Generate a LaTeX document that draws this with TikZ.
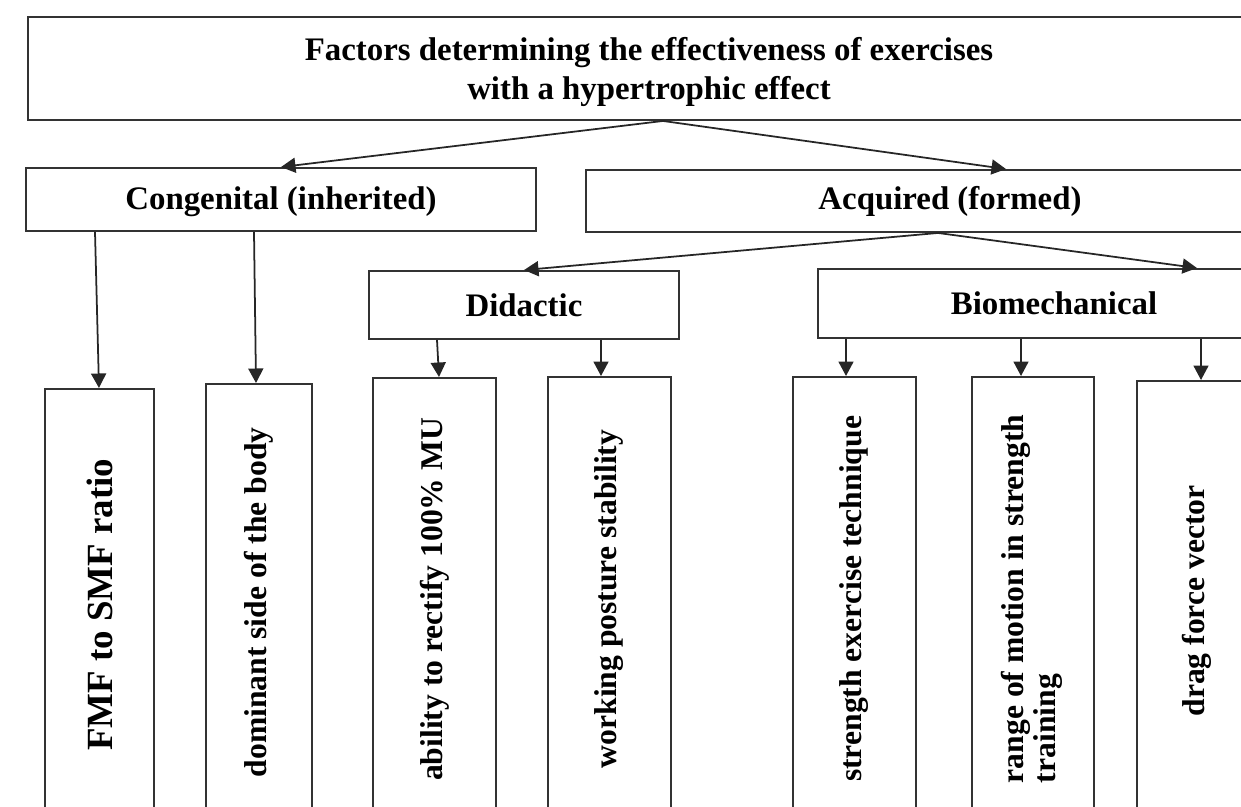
\documentclass[tikz,border=0pt]{standalone}
\usepackage{fontspec}
\setmainfont{Liberation Serif}
\usetikzlibrary{arrows.meta}

\begin{document}
\begin{tikzpicture}[x=0.02cm, y=-0.02cm,
  box/.style={draw=black!80, line width=1.1pt, inner sep=2pt, font=\bfseries\fontsize{18.7}{22}\selectfont},
  leaf/.style={box, anchor=north, font=\bfseries\fontsize{18}{18.2}\selectfont},
  arr/.style={draw=black!85, line width=1pt, -{Triangle[length=0.29cm,width=0.3cm]}}]
  \useasboundingbox (0,0) rectangle (1241,807);
  \clip (0,0) rectangle (1241,807);

  % upper levels
  \node[box, minimum width=24.84cm, minimum height=2.06cm, align=center, text depth=0pt] (top) at (649,68.5) {Factors determining the effectiveness of exercises\\ with a hypertrophic effect};
  \node[box, minimum width=10.2cm, minimum height=1.26cm, text height=16pt] (cong) at (281,199.5) {Congenital (inherited)};
  \node[box, minimum width=14.56cm, minimum height=1.24cm] (acq) at (950,201) {Acquired (formed)};
  \node[box, minimum width=6.2cm, minimum height=1.36cm] (did) at (524,305) {Didactic};
  \node[box, minimum width=9.44cm, minimum height=1.38cm] (bio) at (1054,303.5) {Biomechanical};

  % leaves
  \node[leaf, minimum width=2.18cm, minimum height=8.64cm, font=\bfseries\fontsize{21}{24}\selectfont] (fmf) at (99.5,388) {\rotatebox{90}{FMF to SMF ratio}};
  \node[leaf, minimum width=2.12cm, minimum height=8.74cm] (dom) at (259,383) {\rotatebox{90}{dominant side of the body}};
  \node[leaf, minimum width=2.46cm, minimum height=8.86cm] (abil) at (434.5,377) {\rotatebox{90}{ability to rectify 100\% MU}};
  \node[leaf, minimum width=2.46cm, minimum height=8.88cm] (work) at (609.5,376) {\rotatebox{90}{working posture stability}};
  \node[leaf, minimum width=2.46cm, minimum height=8.88cm] (str) at (854.5,376) {\rotatebox{90}{strength exercise technique}};
  \node[leaf, minimum width=2.44cm, minimum height=8.88cm] (rng) at (1033,376) {\rotatebox{90}{\begin{tabular}{@{}l@{}}range of motion in strength\\ training\end{tabular}}};
  \node[leaf, minimum width=2.4cm, minimum height=8.8cm] (drag) at (1197,380) {\rotatebox{90}{drag force vector}};

  % connectors
  \draw[arr] (top.south -| 663,0) -- (cong.north);
  \draw[arr] (top.south -| 663,0) -- (acq.north -| 1006,0);
  \draw[arr] (acq.south -| 938,0) -- (did.north);
  \draw[arr] (acq.south -| 938,0) -- (bio.north -| 1197,0);
  \draw[arr] (cong.south -| 95,0) -- (fmf.north -| 99,0);
  \draw[arr] (cong.south -| 254,0) -- (dom.north -| 256,0);
  \draw[arr] (did.south -| 437,0) -- (abil.north -| 439,0);
  \draw[arr] (did.south -| 601,0) -- (work.north -| 601,0);
  \draw[arr] (bio.south -| 846,0) -- (str.north -| 846,0);
  \draw[arr] (bio.south -| 1021,0) -- (rng.north -| 1021,0);
  \draw[arr] (bio.south -| 1201,0) -- (drag.north -| 1201,0);
\end{tikzpicture}
\end{document}
